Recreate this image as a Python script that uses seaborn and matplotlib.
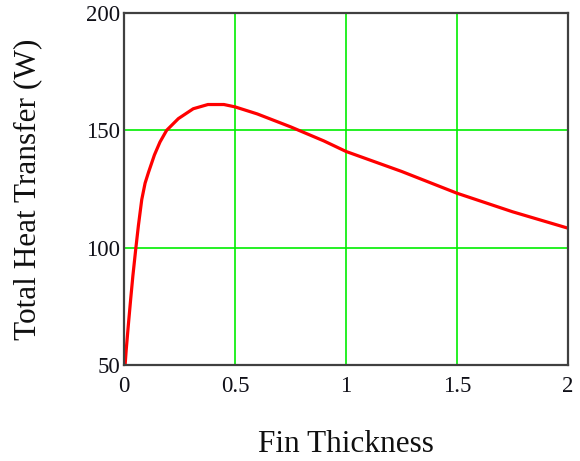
import pandas as pd
import seaborn as sns
import matplotlib.pyplot as plt

# Values
thickness = [0.005, 0.010, 0.020, 0.030, 0.040, 0.053, 0.065, 0.080, 0.095, 0.110,
             0.137, 0.162, 0.192, 0.245, 0.312, 0.378, 0.45, 0.5, 0.6, 0.75,
             0.9, 1.0, 1.25, 1.5, 1.75, 2.0]
heat = [50.0, 56.5, 67.5, 78.0, 88.0, 99.5, 109.5, 120.5, 127.5, 132.0,
        139.5, 145.0, 150.0, 155.0, 159.2, 161.0, 161.0, 160.0, 157.0, 151.5,
        145.5, 141.0, 132.5, 123.2, 115.3, 108.3]

xticks = [0, 0.5, 1, 1.5, 2]
xtick_labels = ["0", "0.5", "1", "1.5", "2"]
yticks = [50, 100, 150, 200]

df = pd.DataFrame({"Fin Thickness": thickness, "Q": heat})

sns.set_style("white")
plt.rcParams["font.family"] = ["Liberation Serif", "DejaVu Serif"]

fig = plt.figure(figsize=(5.8, 4.61), dpi=100)
ax = fig.add_axes([124 / 580, 96 / 461, 444 / 580, 352 / 461])

sns.lineplot(data=df, x="Fin Thickness", y="Q", color="#ff0000", linewidth=2.3, ax=ax)

ax.set_xlim(0, 2)
ax.set_ylim(50, 200)
ax.set_xticks(xticks)
ax.set_xticklabels(xtick_labels)
ax.set_yticks(yticks)
ax.grid(True, color="#00ee00", linewidth=1.2)
ax.set_axisbelow(True)
ax.tick_params(length=0, labelsize=16.5, colors="#101018")
ax.tick_params(axis="x", pad=8)
ax.tick_params(axis="y", pad=3)
for s in ax.spines.values():
    s.set_color("#404040")
    s.set_linewidth(1.6)

ax.set_xlabel("Fin Thickness", fontsize=22.5, labelpad=24, color="#101010")
ax.set_ylabel("Total Heat Transfer (W)", fontsize=22.5, labelpad=31, color="#101010")

fig.savefig("out.png", dpi=100)
